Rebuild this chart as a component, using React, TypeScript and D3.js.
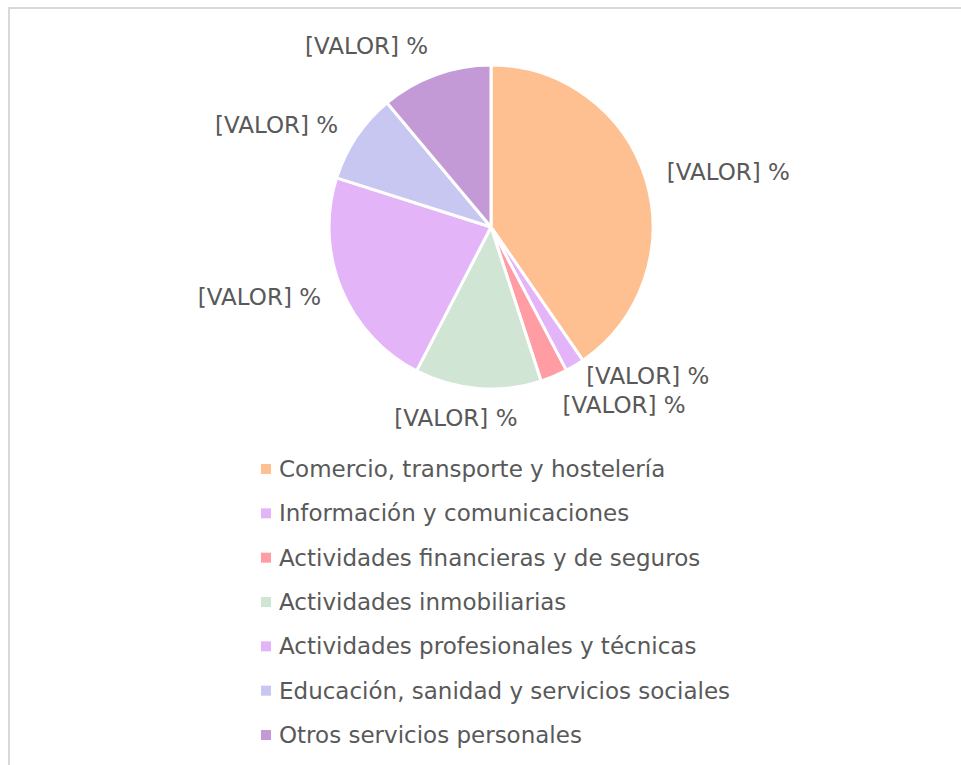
import * as d3 from 'd3';
import React, { useRef, useEffect } from 'react';

const categories = [
    "Comercio, transporte y hostelería",
    "Información y comunicaciones",
    "Actividades financieras y de seguros",
    "Actividades inmobiliarias",
    "Actividades profesionales y técnicas",
    "Educación, sanidad y servicios sociales",
    "Otros servicios personales",
];
const values = [40.4, 1.9, 2.7, 12.6, 22.3, 9.0, 11.1];
const colors = ["#FFC091", "#E4B4F8", "#FF9CA4", "#D0E5D4", "#E4B4F8", "#C7C7F1", "#C49AD6"];
const labelText = "[VALOR] %";

const FONT = "'DejaVu Sans', sans-serif";
const TEXT = "#595959";
const FS = 23;

function App() {
    const ref = useRef<SVGSVGElement>(null);

    useEffect(() => {
        const svg = d3.select(ref.current);
        svg.selectAll("*").remove();

        // chart frame (its right and bottom edges fall outside the window)
        svg.append("rect")
            .attr("x", 9).attr("y", 8)
            .attr("width", 980).attr("height", 800)
            .attr("fill", "#fff")
            .attr("stroke", "#d9d9d9")
            .attr("stroke-width", 2);

        const cx = 491, cy = 227, R = 162;
        const data = categories.map((c, i) => ({ name: c, value: values[i], color: colors[i] }));

        const pie = d3.pie<any>().sort(null).value(d => d.value);
        const arcs = pie(data);
        const arc = d3.arc<any>().innerRadius(0).outerRadius(R);

        const g = svg.append("g").attr("transform", `translate(${cx},${cy})`);
        g.selectAll("path")
            .data(arcs)
            .join("path")
            .attr("d", arc)
            .attr("fill", d => d.data.color)
            .attr("stroke", "#fff")
            .attr("stroke-width", 3)
            .attr("stroke-linejoin", "round");

        // outside-end labels
        const gap = 22, lh = 29, half = 8;
        const labels = arcs.map(a => {
            const m = (a.startAngle + a.endAngle) / 2;
            const s = Math.sin(m), c = Math.cos(m);
            const x = (R + gap) * s;
            const y = -(R + gap) * c;
            const k = Math.max(-1, Math.min(1, s / 0.25)); // -1 = right aligned, 1 = left aligned
            const yc = c > 0.6 ? y - half : c < -0.6 ? y + half : y;
            return { x, y: yc, k };
        });
        // push overlapping neighbours apart (move the earlier one up)
        for (let i = labels.length - 2; i >= 0; i--) {
            const a = labels[i], b = labels[i + 1];
            if (a.k > 0 && b.k > 0 && a.y > b.y - lh) a.y = b.y - lh;
        }

        const lt = g.selectAll("text.lbl")
            .data(labels)
            .join("text")
            .attr("class", "lbl")
            .attr("y", d => d.y)
            .attr("dy", "0.35em")
            .attr("text-anchor", "start")
            .attr("font-family", FONT)
            .attr("font-size", FS)
            .attr("fill", TEXT)
            .text(labelText);
        lt.attr("x", function (d) {
            const w = (this as SVGTextElement).getComputedTextLength();
            return d.x - w / 2 + d.k * w / 2;
        });

        // legend
        const ly = d3.scalePoint<string>().domain(categories).range([469, 735]);
        const leg = svg.append("g");
        const items = leg.selectAll("g").data(categories).join("g")
            .attr("transform", d => `translate(261,${ly(d)})`);
        items.append("rect")
            .attr("x", 0).attr("y", -5)
            .attr("width", 10).attr("height", 10)
            .attr("fill", (d, i) => colors[i]);
        items.append("text")
            .attr("x", 18)
            .attr("dy", "0.35em")
            .attr("font-family", FONT)
            .attr("font-size", FS)
            .attr("fill", TEXT)
            .text(d => d);
    }, []);

    return (
        <svg ref={ref} width={961} height={765}
            style={{ position: "absolute", left: 0, top: 0 }}>
        </svg>
    );
}

export default App;
